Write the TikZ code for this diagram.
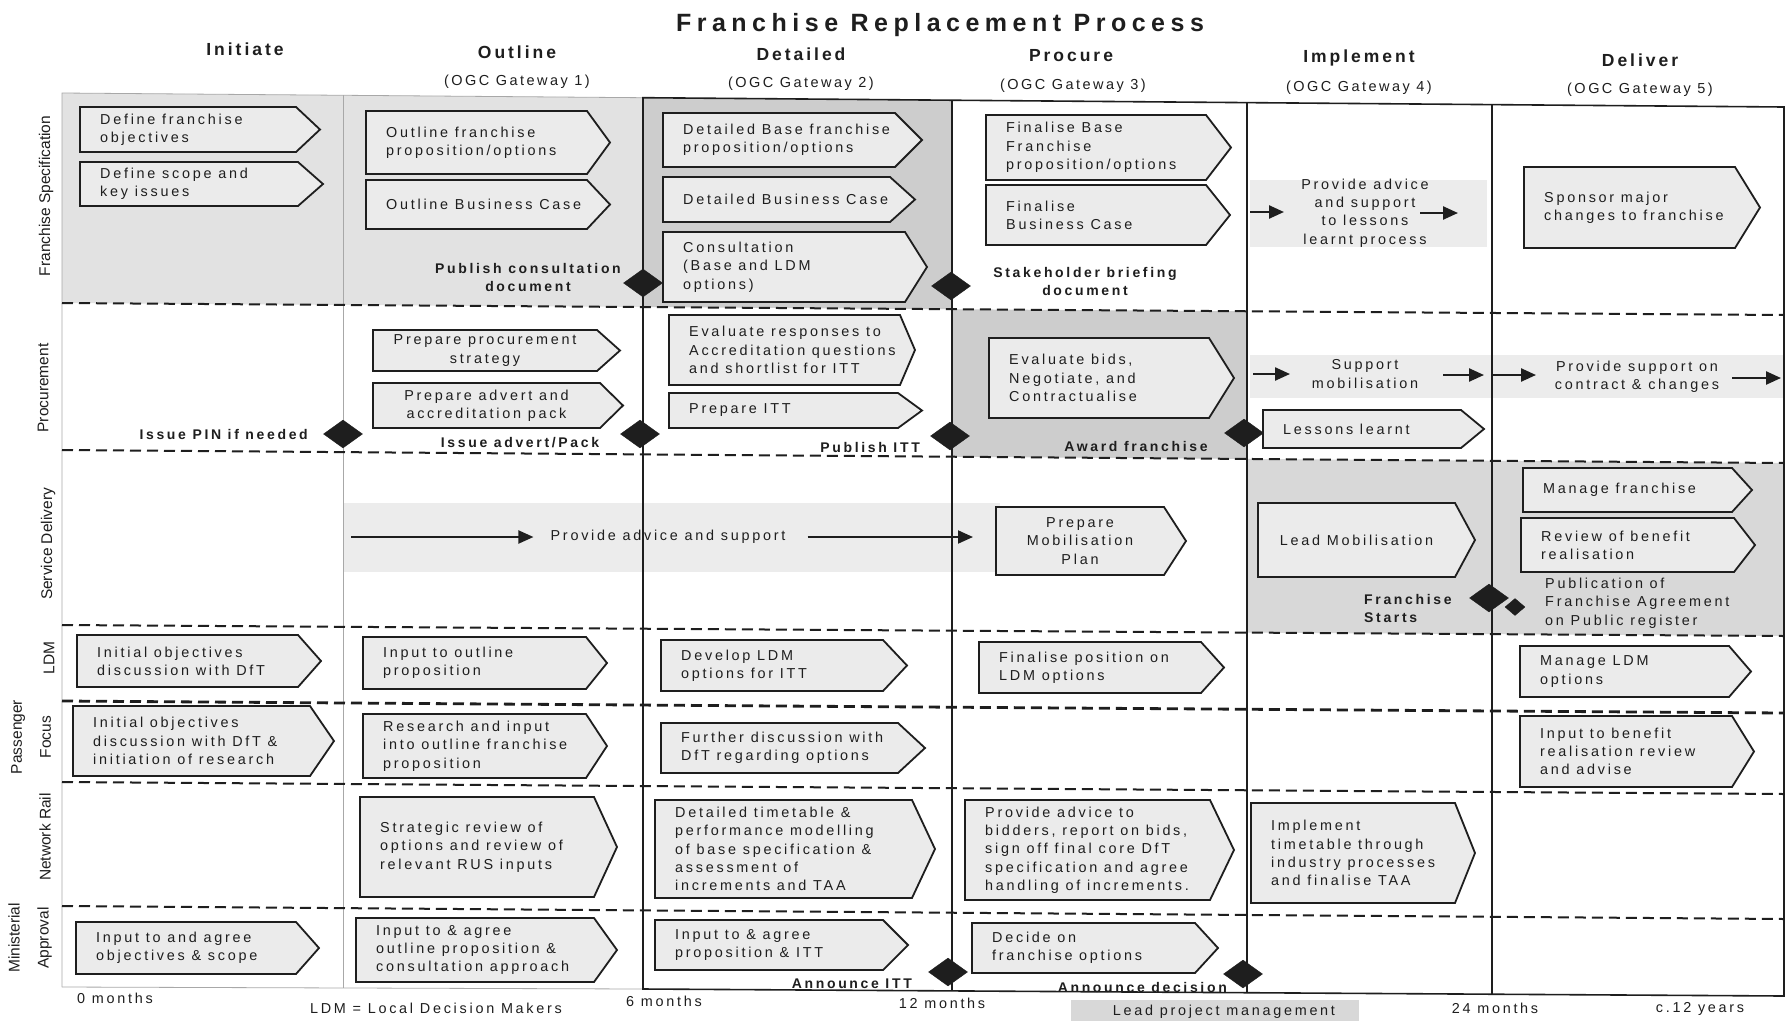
\documentclass[tikz,border=0pt]{standalone}
\usepackage{fontspec}
\setmainfont{Liberation Sans}
\newfontfamily\trk{Liberation Sans}[LetterSpace=19]
\newfontfamily\hdr{Liberation Sans}[LetterSpace=17]
\newfontfamily\ttl{Liberation Sans}[LetterSpace=22]
\usetikzlibrary{shapes.geometric,arrows.meta}

\definecolor{ink}{HTML}{1E1E1E}
\definecolor{boxgrey}{HTML}{EBEBEB}
\definecolor{lanelight}{HTML}{E2E2E2}
\definecolor{lanedark}{HTML}{CDCDCD}
\definecolor{lanemid}{HTML}{D8D8D8}
\definecolor{band}{HTML}{ECECEC}
\definecolor{frame}{HTML}{A8A8A8}

\tikzset{
  chevbox/.style={draw=ink, line width=1.8pt, fill=boxgrey, line join=miter},
  boxtext/.style={inner sep=0pt, anchor=west, align=left, text=ink,
    font=\trk\fontsize{14.4}{18.3}\selectfont},
  boxtextc/.style={boxtext, anchor=center, align=center},
  plain/.style={inner sep=0pt, align=center, text=ink,
    font=\trk\fontsize{14.4}{18.3}\selectfont},
  milestone/.style={inner sep=0pt, align=center, text=ink,
    font=\trk\bfseries\fontsize{14}{18}\selectfont},
  colhead/.style={inner sep=0pt, text=ink, font=\hdr\bfseries\fontsize{17.5}{20}\selectfont},
  gatehead/.style={inner sep=0pt, text=ink, font=\hdr\fontsize{14.5}{18}\selectfont},
  lanelabel/.style={inner sep=0pt, rotate=90, align=center, text=ink,
    font=\fontsize{15.5}{29}\selectfont},
  gate/.style={diamond, fill=ink, draw=ink, inner sep=0pt,
    minimum width=39pt, minimum height=28pt},
  smallgate/.style={diamond, fill=ink, draw=ink, inner sep=0pt,
    minimum width=20pt, minimum height=17pt},
  lanesep/.style={draw=ink, line width=2pt, dash pattern=on 11pt off 6pt},
  phaseline/.style={draw=ink, line width=1.6pt},
  thinframe/.style={draw=frame, line width=0.8pt},
  flow/.style={draw=ink, line width=2.4pt, -{Triangle[length=15pt,width=13pt]}},
}

% chevron box with left-aligned text: name, left, top, body end, bottom, tip, text
\newcommand\chev[7]{%
  \draw[chevbox] (#2,#3) -- (#4,#3) -- (#6,{(#3+#5)/2}) -- (#4,#5) -- (#2,#5) -- cycle;
  \coordinate (#1-in) at (#2,{(#3+#5)/2});
  \coordinate (#1-out) at (#6,{(#3+#5)/2});
  \node[boxtext] (#1) at (#2+20,{(#3+#5)/2}) {#7};}
% chevron box with centred text
\newcommand\chevc[7]{%
  \draw[chevbox] (#2,#3) -- (#4,#3) -- (#6,{(#3+#5)/2}) -- (#4,#5) -- (#2,#5) -- cycle;
  \coordinate (#1-in) at (#2,{(#3+#5)/2});
  \coordinate (#1-out) at (#6,{(#3+#5)/2});
  \node[boxtextc] (#1) at ({(#2+#4)/2},{(#3+#5)/2}) {#7};}

\begin{document}
\begin{tikzpicture}[x=1pt,y=-1pt]
\useasboundingbox[fill=white] (0,0) rectangle (1786,1021);

% ---- shaded areas ----
\fill[lanelight] (62,93) -- (643,97.7) -- (643,307) -- (62,303) -- cycle;
\fill[lanedark] (643,97.7) -- (952,100.2) -- (952,309.2) -- (643,307) -- cycle;
\fill[band] (1250,180) rectangle (1487,247);
\fill[lanedark] (952,309.2) -- (1247,311.3) -- (1247,458.9) -- (952,456.7) -- cycle;
\fill[band] (1250,355) rectangle (1784,398);
\fill[band] (343,503) rectangle (1000,572);
\fill[lanemid] (1247,458.9) -- (1784,463) -- (1784,636) -- (1247,632.6) -- cycle;
\fill[lanemid] (1071,1000) rectangle (1359,1021);

% ---- frame and phase lines ----
\draw[thinframe] (62,987) -- (62,93) -- (643,97.7);
\draw[thinframe] (343,95.4) -- (343,988);
\draw[thinframe] (62,987) -- (643,989);
\draw[phaseline] (643,97.7) -- (1784,107) -- (1784,996) -- (643,989) -- cycle;
\draw[phaseline] (952,100.2) -- (952,990.9);
\draw[phaseline] (1247,102.6) -- (1247,992.7);
\draw[phaseline] (1492,104.6) -- (1492,994.2);

% ---- lane separators ----
\draw[lanesep] (62,303) -- (1784,315);
\draw[lanesep] (62,450) -- (1784,463);
\draw[lanesep] (62,625) -- (1784,636);
\draw[lanesep, line width=2.8pt] (62,701) -- (1784,713);
\draw[lanesep] (62,782) -- (1784,794);
\draw[lanesep] (62,906) -- (1784,919);

% ---- headings ----
\node[inner sep=0pt, text=ink, font=\ttl\bfseries\fontsize{25}{30}\selectfont] (title) at (940,25) {Franchise Replacement Process};
\node[colhead] (hInit) at (245,49) {Initiate};
\node[colhead] (hOut) at (517,52) {Outline};
\node[colhead] (hDet) at (801,54) {Detailed};
\node[colhead] (hPro) at (1071,56) {Procure};
\node[colhead] (hImp) at (1359,58) {Implement};
\node[colhead] (hDel) at (1640,60) {Deliver};
\node[gatehead] (g1) at (517,82) {(OGC Gateway 1)};
\node[gatehead] (g2) at (801,84) {(OGC Gateway 2)};
\node[gatehead] (g3) at (1073,86) {(OGC Gateway 3)};
\node[gatehead] (g4) at (1359,88) {(OGC Gateway 4)};
\node[gatehead] (g5) at (1640,90) {(OGC Gateway 5)};

% ---- lane labels ----
\node[lanelabel] (lFS) at (46,196) {Franchise Specification};
\node[lanelabel] (lPR) at (43,388) {Procurement};
\node[lanelabel] (lSD) at (48,544) {Service Delivery};
\node[lanelabel] (lLDM) at (49,658) {LDM};
\node[lanelabel] (lPF) at (31,737) {Passenger\\Focus};
\node[lanelabel] (lNR) at (45,837) {Network Rail};
\node[lanelabel] (lMA) at (30,938) {Ministerial\\Approval};

% ---- Franchise Specification ----
\chev{fs1}{80}{107}{296}{152}{320}{Define franchise\\objectives}
\chev{fs2}{80}{162}{298}{206}{323}{Define scope and\\key issues}
\chev{fs3}{366}{111}{587}{174}{610}{Outline franchise\\proposition/options}
\chev{fs4}{366}{180}{587}{229}{610}{Outline Business Case}
\chev{fs5}{663}{113}{895}{167}{922}{Detailed Base franchise\\proposition/options}
\chev{fs6}{663}{177}{890}{222}{915}{Detailed Business Case}
\chev{fs7}{663}{232}{905}{302}{927}{Consultation\\(Base and LDM\\options)}
\chev{fs8}{986}{115}{1206}{180}{1231}{Finalise Base\\Franchise\\proposition/options}
\chev{fs9}{986}{185}{1206}{245}{1230}{Finalise\\Business Case}
\chev{fs10}{1524}{167}{1735}{248}{1760}{Sponsor major\\changes to franchise}

\node[plain] (lessonsAdvice) at (1365,213) {Provide advice\\and support\\to lessons\\learnt process};
\coordinate (fa1) at (1250,212); \coordinate (fa2) at (1284,212);
\coordinate (fa3) at (1420,213); \coordinate (fa4) at (1458,213);
\draw[flow] (fa1) -- (fa2);
\draw[flow] (fa3) -- (fa4);

% ---- Procurement ----
\chevc{pr1}{373}{330}{597}{371}{620}{Prepare procurement\\strategy}
\chevc{pr2}{373}{383}{600}{428}{623}{Prepare advert and\\accreditation pack}
\chev{pr3}{669}{315}{900}{385}{915}{Evaluate responses to\\Accreditation questions\\and shortlist for ITT}
\chev{pr4}{669}{393}{898}{428}{922}{Prepare ITT}
\chev{pr5}{989}{338}{1209}{418}{1234}{Evaluate bids,\\Negotiate, and\\Contractualise}
\chev{pr6}{1263}{410}{1461}{448}{1484}{Lessons learnt}

\node[plain] (supMob) at (1365,374) {Support\\mobilisation};
\node[plain] (supCon) at (1637,377) {Provide support on\\contract \& changes};
\coordinate (pa1) at (1253,374); \coordinate (pa2) at (1290,374);
\coordinate (pa3) at (1443,375); \coordinate (pa4) at (1484,375);
\coordinate (pa5) at (1491,375); \coordinate (pa6) at (1536,375);
\coordinate (pa7) at (1732,378); \coordinate (pa8) at (1781,378);
\draw[flow] (pa1) -- (pa2);
\draw[flow] (pa3) -- (pa4);
\draw[flow] (pa5) -- (pa6);
\draw[flow] (pa7) -- (pa8);

% ---- Service Delivery ----
\chevc{sd1}{996}{507}{1164}{575}{1186}{Prepare\\Mobilisation\\Plan}
\chevc{sd2}{1258}{503}{1455}{577}{1475}{Lead Mobilisation}
\chev{sd3}{1523}{468}{1732}{512}{1752}{Manage franchise}
\chev{sd4}{1521}{518}{1734}{572}{1755}{Review of benefit\\realisation}

\node[plain] (sdAdvice) at (668,537) {Provide advice and support};
\coordinate (sdStart) at (351,537);
\draw[flow, line width=2pt, shorten >=17pt] (sdStart) -- (sdAdvice.west);
\draw[flow, line width=2pt, shorten <=22pt, shorten >=23pt] (sdAdvice.east) -- (sdAdvice.east -| sd1-in);

% ---- LDM ----
\chev{ld1}{77}{635}{298}{687}{321}{Initial objectives\\discussion with DfT}
\chev{ld2}{363}{637}{586}{689}{607}{Input to outline\\proposition}
\chev{ld3}{661}{640}{883}{691}{907}{Develop LDM\\options for ITT}
\chev{ld4}{979}{642}{1201}{693}{1224}{Finalise position on\\LDM options}
\chev{ld5}{1520}{646}{1729}{697}{1751}{Manage LDM\\options}

% ---- Passenger Focus ----
\chev{pf1}{73}{706}{310}{776}{334}{Initial objectives\\discussion with DfT \&\\initiation of research}
\chev{pf2}{363}{714}{586}{778}{607}{Research and input\\into outline franchise\\proposition}
\chev{pf3}{661}{723}{898}{773}{925}{Further discussion with\\DfT regarding options}
\chev{pf4}{1520}{716}{1732}{787}{1754}{Input to benefit\\realisation review\\and advise}

% ---- Network Rail ----
\chev{nr1}{360}{797}{594}{897}{617}{Strategic review of\\options and review of\\relevant RUS inputs}
\chev{nr2}{655}{800}{912}{898}{935}{Detailed timetable \&\\performance modelling\\of base specification \&\\assessment of\\increments and TAA}
\chev{nr3}{965}{800}{1210}{900}{1234}{Provide advice to\\bidders, report on bids,\\sign off final core DfT\\specification and agree\\handling of increments.}
\chev{nr4}{1251}{803}{1455}{903}{1475}{Implement\\timetable through\\industry processes\\and finalise TAA}

% ---- Ministerial Approval ----
\chev{ma1}{76}{922}{296}{974}{319}{Input to and agree\\objectives \& scope}
\chev{ma2}{356}{918}{594}{982}{617}{Input to \& agree\\outline proposition \&\\consultation approach}
\chev{ma3}{655}{920}{883}{970}{908}{Input to \& agree\\proposition \& ITT}
\chev{ma4}{972}{923}{1195}{973}{1218}{Decide on\\franchise options}

% ---- milestones ----
\node[gate] (m1) at (643,283) {};
\node[gate] (m2) at (951,286) {};
\node[gate] (m3) at (343,434) {};
\node[gate] (m4) at (640,434) {};
\node[gate] (m5) at (950,436) {};
\node[gate] (m6) at (1244,433) {};
\node[gate] (m7) at (1489,598) {};
\node[smallgate] (m7b) at (1515,607) {};
\node[gate] (m8) at (948,972) {};
\node[gate] (m9) at (1243,974) {};

\node[milestone] (tPubCons) at (528,277) {Publish consultation\\document};
\node[milestone] (tStake) at (1085,281) {Stakeholder briefing\\document};
\node[milestone, anchor=east] (tPin) at (308,434) {Issue PIN if needed};
\node[milestone] (tAdvert) at (520,443) {Issue advert/Pack};
\node[milestone, anchor=east] (tPubITT) at (920,447) {Publish ITT};
\node[milestone] (tAward) at (1136,446) {Award franchise};
\node[milestone, anchor=west, align=left] (tStarts) at (1364,608) {Franchise\\Starts};
\node[plain, anchor=west, align=left] (tRegister) at (1545,603) {Publication of\\Franchise Agreement\\on Public register};
\node[milestone, anchor=east] (tAnnITT) at (912,984) {Announce ITT};
\node[milestone, anchor=east] (tAnnDec) at (1227,987) {Announce decision};

% ---- time axis ----
\node[plain, anchor=west] (t0) at (77,998) {0 months};
\node[plain] (key) at (436,1008) {LDM = Local Decision Makers};
\node[plain, anchor=west] (t6) at (626,1001) {6 months};
\node[plain] (t12) at (942,1003) {12 months};
\node[plain] (lead) at (1224,1012) {Lead project management};
\node[plain] (t24) at (1495,1008) {24 months};
\node[plain] (tEnd) at (1700,1009) {c.12 years};
\end{tikzpicture}
\end{document}
